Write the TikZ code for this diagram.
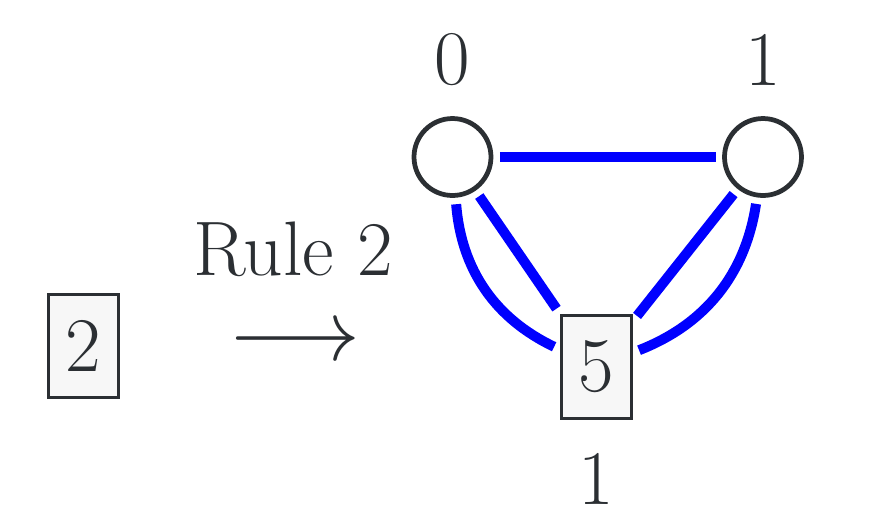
\documentclass[tikz,border=0pt]{standalone}
\usepackage{fontspec}
\usepackage{unicode-math}
\usetikzlibrary{positioning}

\definecolor{inkgray}{RGB}{43,47,51}
\definecolor{boxfill}{RGB}{247,247,247}
\definecolor{edgeblue}{RGB}{0,0,255}

\tikzset{
    digit/.style={text=inkgray, inner sep=0pt, font=\fontsize{44pt}{52pt}\selectfont},
    valbox/.style={draw=inkgray, fill=boxfill, line width=0.06cm, minimum width=1.4cm, minimum height=2.06cm, inner sep=0pt, text=inkgray, font=\fontsize{44pt}{52pt}\selectfont},
    vertex/.style={circle, draw=inkgray, line width=0.095cm, minimum size=1.54cm, inner sep=0pt},
    edge/.style={draw=edgeblue, line width=0.2cm, shorten <=0.13cm, shorten >=0.13cm}
}

\begin{document}
\begin{tikzpicture}[x=0.02cm, y=-0.02cm]
        \path[use as bounding box] (0,0) rectangle (870,512);

        % left side
        \node[valbox] (box2) at (83.5,346) {2};
        \node[text=inkgray, inner sep=0pt, anchor=base, font=\fontsize{44pt}{52pt}\selectfont] (rule) at (293,275) {Rule 2};
        \node[text=inkgray, inner sep=0pt, anchor=base, font=\fontsize{50pt}{58pt}\selectfont] (arrow) at (296,360) {$\longrightarrow$};

        % graph
        \node[vertex] (v0) at (452.5,157) {};
        \node[vertex] (v1) at (763,157) {};
        \node[valbox] (box5) at (596.5,367) {5};

        \node[digit, above=0.6cm of v0] (lab0) {0};
        \node[digit, above=0.6cm of v1] (lab1) {1};
        \node[digit, below=0.66cm of box5] (lab5) {1};

        \draw[edge] (v0) -- (v1);
        \draw[edge] (v0) -- (box5);
        \draw[edge] (v0) to[bend right=30] (box5);
        \draw[edge] (v1) -- (box5);
        \draw[edge] (v1) to[bend left=30] (box5);
    \end{tikzpicture}
\end{document}
